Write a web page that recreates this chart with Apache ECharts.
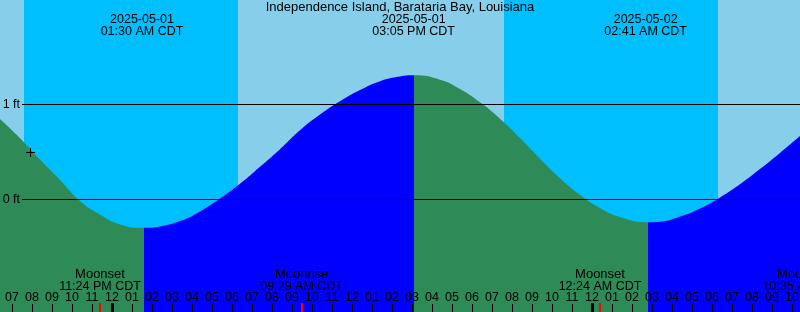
<!DOCTYPE html>
<html><head><meta charset="utf-8">
<script src="https://cdn.jsdelivr.net/npm/echarts@6/dist/echarts.min.js"></script>
<style>html,body{margin:0;padding:0;background:#87CEEB}#c{width:800px;height:312px}</style>
</head><body><div id="c"></div>
<script>
// Time in hours relative to 2025-05-01 00:00 CDT
const titleText = 'Independence Island, Barataria Bay, Louisiana';
const tideTimes   = [-5.6, -4.6, -3.6, -2.6, -1.6, -0.6, 0.4, 1.6, 2.4, 3.4, 4.4, 5.4, 6.4, 7.4, 8.4, 9.4, 10.4, 11.4, 12.4, 13.4, 14.4, 15.1, 16.4, 17.4, 18.4, 19.4, 20.4, 21.4, 22.4, 23.4, 24.4, 25.4, 26.8, 27.4, 28.4, 29.4, 30.4, 31.4, 32.4, 33.4, 34.4];
const tideHeights = [0.847, 0.645, 0.42, 0.205, -0.015, -0.158, -0.262, -0.297, -0.283, -0.227, -0.125, 0.01, 0.165, 0.345, 0.53, 0.73, 0.895, 1.035, 1.153, 1.246, 1.295, 1.307, 1.261, 1.164, 1.023, 0.85, 0.647, 0.43, 0.225, 0.05, -0.09, -0.185, -0.24, -0.235, -0.18, -0.095, 0.022, 0.16, 0.32, 0.49, 0.668];
const extremeTimes = [1.6, 15.1, 26.8];           // low, high, low (colour changes)
const tideEventTimes = [1.5, 15.083, 26.683];
const tideEventDates = ['2025-05-01', '2025-05-01', '2025-05-02'];
const tideEventClock = ['01:30 AM CDT', '03:05 PM CDT', '02:41 AM CDT'];
const nightStart = [-4.4, 19.6];
const nightEnd   = [6.3, 30.3];
const moonTimes  = [-0.6, 9.483, 24.4, 34.583];
const moonEvents = ['Moonset', 'Moonrise', 'Moonset', 'Moonrise'];
const moonClock  = ['11:24 PM CDT', '09:29 AM CDT', '12:24 AM CDT', '10:35 AM CDT'];
const dayBoundaries = [0, 24];
const refLevels = [1, 0];
const refLabels = ['1 ft', '0 ft'];
const markTime = [-4.085];
const markHeight = [0.497];
const firstHour = -5;
const hourLabels = ['07','08','09','10','11',
  '12','01','02','03','04','05','06','07','08','09','10','11',
  '12','01','02','03','04','05','06','07','08','09','10','11',
  '12','01','02','03','04','05','06','07','08','09','10'];
const xMin = -5.6, xMax = 34.4, yMin = -1.184, yMax = 2.1;

const hourTicks = hourLabels.map((_, i) => firstHour + i);
const FONT = 'Liberation Sans';
const FS = 12.5, FS_WORD = 13;
const DAY = '#87CEEB', NIGHT = '#00BFFF', FALL = '#2E8B57', RISE = '#0000FF';

const pieces = [];
let prev = null, falling = true;
extremeTimes.concat([null]).forEach(t => {
  const p = { color: falling ? FALL : RISE };
  if (prev !== null) p.gte = prev;
  if (t !== null) p.lt = t;
  pieces.push(p);
  prev = t; falling = !falling;
});

function txt(x, y, text, align, size) {
  return { type: 'text', style: { x, y, text, fill: '#000', fontSize: size || FS, fontFamily: FONT, align: align || 'center', verticalAlign: 'middle' } };
}

const chart = echarts.init(document.getElementById('c'), null, { renderer: 'canvas' });
chart.setOption({
  backgroundColor: DAY,
  animation: false,
  title: { text: titleText, left: 'center', top: 1, padding: 0,
    textStyle: { fontSize: FS_WORD, fontWeight: 'normal', color: '#000', fontFamily: FONT } },
  grid: { left: 0, right: 0, top: 0, bottom: 0, containLabel: false, outerBoundsMode: 'none' },
  xAxis: { type: 'value', min: xMin, max: xMax, z: 10,
    axisLine: { show: false, onZero: false }, splitLine: { show: false },
    axisTick: { show: true, inside: true, length: 8, customValues: hourTicks, lineStyle: { color: '#000', width: 1 } },
    axisLabel: { show: true, inside: true, customValues: hourTicks, margin: 14.5, color: '#000',
      fontSize: FS, fontFamily: FONT, verticalAlign: 'middle',
      formatter: v => hourLabels[Math.round(v - firstHour)] } },
  yAxis: { type: 'value', min: yMin, max: yMax, show: false },
  visualMap: { type: 'piecewise', show: false, dimension: 0, seriesIndex: 1, pieces },
  series: [
    { type: 'custom', z: 1, silent: true,
      data: nightStart.map((s, i) => [s, nightEnd[i]]),
      encode: { x: [0, 1] },
      renderItem: (params, api) => {
        const a = api.coord([api.value(0), yMax]);
        const b = api.coord([api.value(1), yMin]);
        return { type: 'rect', shape: { x: a[0], y: a[1], width: b[0] - a[0], height: b[1] - a[1] }, style: { fill: NIGHT } };
      } },
    { type: 'line', z: 2, smooth: 0.5, showSymbol: false, silent: true,
      data: tideTimes.map((t, i) => [t, tideHeights[i]]),
      lineStyle: { width: 0 },
      areaStyle: { opacity: 1, origin: 'start' } },
    { type: 'custom', z: 3, silent: true,
      data: refLevels.map((v, i) => [xMin, v, i]),
      encode: { x: 0, y: 1 },
      renderItem: (params, api) => {
        const p = api.coord([api.value(0), api.value(1)]);
        const cs = params.coordSys;
        return { type: 'group', children: [
          { type: 'line', shape: { x1: cs.x + 22, y1: p[1], x2: cs.x + cs.width, y2: p[1] }, style: { stroke: '#000', lineWidth: 1 } },
          txt(cs.x + 20, p[1], refLabels[api.value(2)], 'right')
        ] };
      } },
    { type: 'custom', z: 4, silent: true,
      data: tideEventTimes.map((t, i) => [t, 0, i]),
      encode: { x: 0, y: 1 },
      renderItem: (params, api) => {
        const p = api.coord([api.value(0), 0]);
        const i = api.value(2);
        return { type: 'group', children: [ txt(p[0], 19.5, tideEventDates[i]), txt(p[0], 31.2, tideEventClock[i]) ] };
      } },
    { type: 'custom', z: 4, silent: true,
      data: moonTimes.map((t, i) => [t, 0, i]),
      encode: { x: 0, y: 1 },
      renderItem: (params, api) => {
        const p = api.coord([api.value(0), 0]);
        const i = api.value(2);
        return { type: 'group', children: [
          txt(p[0], 274.5, moonEvents[i], 'center', FS_WORD), txt(p[0], 286.2, moonClock[i]),
          { type: 'rect', shape: { x: Math.round(p[0]) - 1, y: 303, width: 2, height: 9 }, style: { fill: '#FF0000' } }
        ] };
      } },
    { type: 'custom', z: 4, silent: true,
      data: dayBoundaries.map(t => [t, 0]),
      encode: { x: 0, y: 1 },
      renderItem: (params, api) => {
        const p = api.coord([api.value(0), 0]);
        return { type: 'rect', shape: { x: Math.round(p[0]) - 1, y: 303, width: 3, height: 9 }, style: { fill: '#000' } };
      } },
    { type: 'custom', z: 4, silent: true,
      data: markTime.map((t, i) => [t, markHeight[i]]),
      encode: { x: 0, y: 1 },
      renderItem: (params, api) => {
        const p = api.coord([api.value(0), api.value(1)]);
        const cx = Math.round(p[0]) + 0.5, cy = Math.round(p[1]) + 0.5;
        return { type: 'group', children: [
          { type: 'line', shape: { x1: cx - 4.5, y1: cy, x2: cx + 4.5, y2: cy }, style: { stroke: '#000', lineWidth: 1 } },
          { type: 'line', shape: { x1: cx, y1: cy - 4.5, x2: cx, y2: cy + 4.5 }, style: { stroke: '#000', lineWidth: 1 } }
        ] };
      } }
  ]
});
</script></body></html>
